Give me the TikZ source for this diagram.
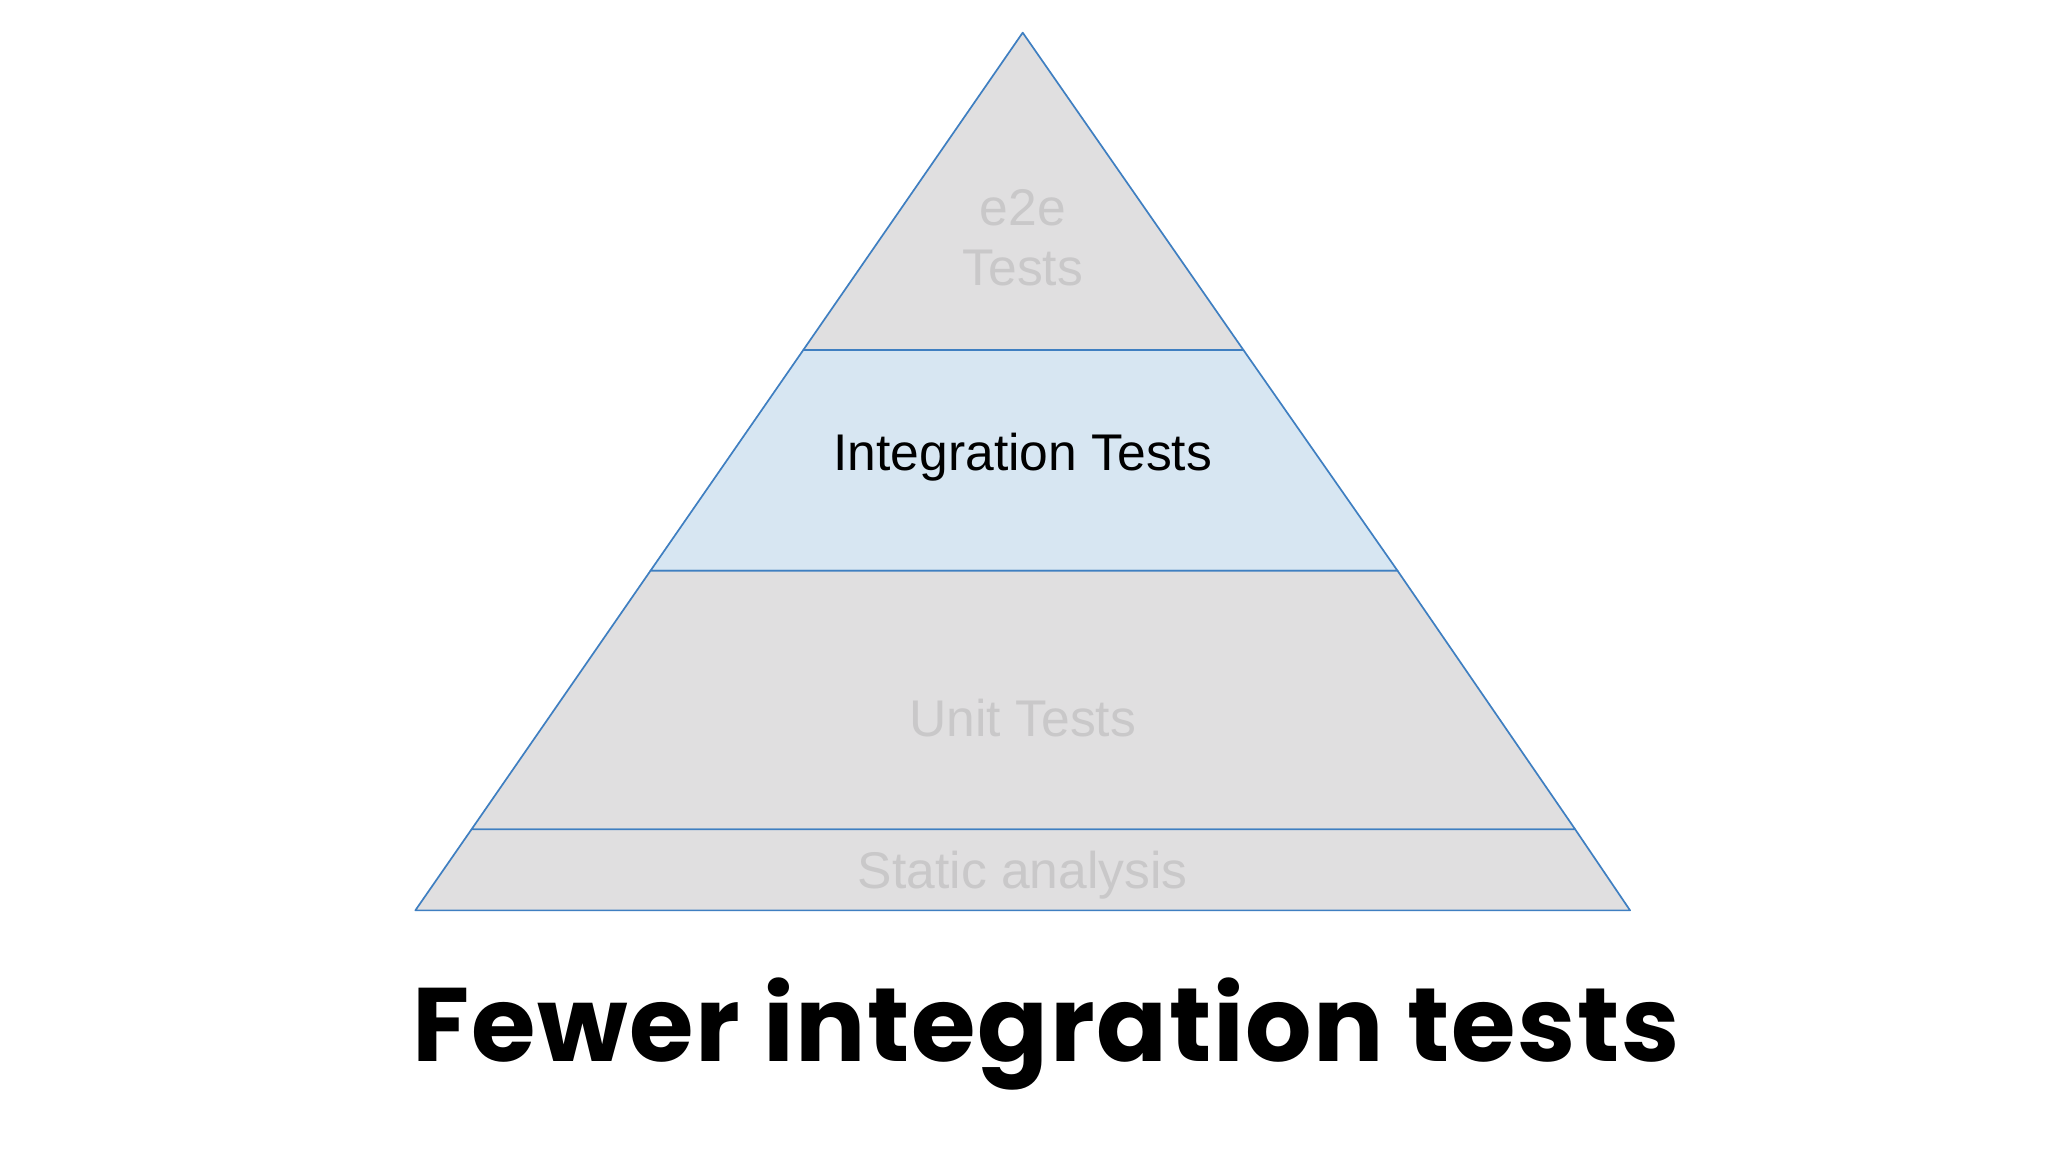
\documentclass[tikz,border=0pt]{standalone}
\usepackage{fontspec}
\setmainfont{Liberation Sans}
\newfontfamily\titlefont[LetterSpace=1.5]{Poppins}
\definecolor{edge}{HTML}{3F7FC1}
\definecolor{layergray}{HTML}{E0DFE0}
\definecolor{layerblue}{HTML}{D7E6F2}
\definecolor{fadetext}{HTML}{C9C8C9}
\tikzset{
  layer/.style={draw=edge, line width=1.3pt, line join=round},
  fadelabel/.style={text=fadetext, font=\fontsize{39.5}{46}\selectfont, align=center},
}
\begin{document}
\begin{tikzpicture}[x=1pt,y=-1pt]
\useasboundingbox (0,0) rectangle (1568,882);
\fill[white] (0,0) rectangle (1568,882);
\draw[layer, fill=layergray] (783,25) -- (952,268) -- (615,268) -- cycle;
\draw[layer, fill=layerblue] (615,268) -- (952,268) -- (1070,437) -- (498,437) -- cycle;
\draw[layer, fill=layergray] (498,437) -- (1070,437) -- (1206,635) -- (361,635) -- cycle;
\draw[layer, fill=layergray] (361,635) -- (1206,635) -- (1248,697) -- (318,697) -- cycle;
\node[fadelabel] (e2e) at (783,182) {e2e\\Tests};
\node[font=\fontsize{39.5}{46}\selectfont] (integ) at (783,350) {Integration Tests};
\node[fadelabel] (unit) at (783,550) {Unit Tests};
\node[fadelabel] (static) at (783,670) {Static analysis};
\node[font=\titlefont\bfseries\fontsize{80}{86}\selectfont] (title) at (801,792) {Fewer integration tests};
\end{tikzpicture}
\end{document}
